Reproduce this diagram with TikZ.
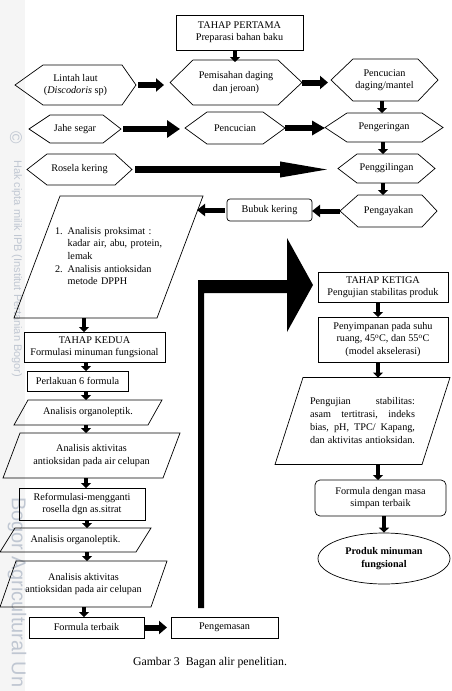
\documentclass[tikz,border=0pt]{standalone}
\usepackage{fontspec}
\setmainfont{Liberation Serif}
\newfontfamily\wmfont{Liberation Sans}
\usetikzlibrary{arrows.meta,shapes.geometric,calc}
\definecolor{wmc}{RGB}{192,199,210}
\newcommand\hexshape[3]{\draw[shp] (#1.west) -- ([xshift=#2pt]#1.north west) -- ([xshift=-#3pt]#1.north east) -- (#1.east) -- ([xshift=-#3pt]#1.south east) -- ([xshift=#2pt]#1.south west) -- cycle;}
\newcommand\parashape[2]{\draw[shp] ([xshift=#2pt]#1.north west) -- (#1.north east) -- ([xshift=-#2pt]#1.south east) -- (#1.south west) -- cycle;}
\newcommand\jline[1]{\hbox to 105pt{#1}}
\tikzset{
  base/.style={inner sep=0pt, outer sep=0pt, align=center, font=\fontsize{10.2}{12.3}\selectfont},
  bx/.style={base, draw, line width=0.7pt},
  rbx/.style={bx, rounded corners=3pt},
  sh/.style={base},
  sz/.style 2 args={minimum width=#1pt, minimum height=#2pt},
  shp/.style={draw, line width=0.7pt, line join=miter},
  arr/.style n args={3}{line width=#1pt, -{Triangle[length=#2pt,width=#3pt]}},
  varr/.style={arr={4.5}{5}{10}},
}
\begin{document}
\begin{tikzpicture}[x=1pt,y=-1pt]
\useasboundingbox (0,0) rectangle (451,691);
\fill[white] (0,0) rectangle (451,691);
\fill[black!4] (0,0) rectangle (25,691);
% watermark
\node[text=wmc, rotate=-90, font=\wmfont\fontsize{17}{17}\selectfont, inner sep=0pt] (wmc1) at (16,138) {©};
\node[text=wmc, rotate=-90, anchor=west, inner sep=0pt, font=\wmfont\fontsize{11}{11}\selectfont] (wm1) at (17,160) {Hak cipta milik IPB (Institut Pertanian Bogor)};
\node[text=wmc, rotate=-90, anchor=west, inner sep=0pt, font=\wmfont\fontsize{20}{20}\selectfont] (wm2) at (17,497) {Bogor Agricultural Un};

% ---- first stage
\node[bx, sz={127}{35}] (t1) at (239.5,32.5) {TAHAP PERTAMA\\Preparasi bahan baku};
\node[sh, sz={121}{40}] (lin) at (75.5,85) {Lintah laut\\(\textit{Discodoris} sp)};
\node[sh, sz={132}{45}] (pem) at (236,82.5) {Pemisahan daging\\dan jeroan)};
\node[sh, sz={107}{42}] (pcd) at (384.5,80) {Pencucian\\daging/mantel};
\node[sh, sz={92}{28}] (jahe) at (75,129) {Jahe segar};
\node[sh, sz={100}{32}] (pc) at (235,128) {Pencucian};
\node[sh, sz={118}{29}] (ker) at (384,127.5) {Pengeringan};
\node[sh, sz={105}{31}] (ros) at (79.5,169.5) {Rosela kering};
\node[sh, sz={97}{29}] (gil) at (386.5,168.5) {Penggilingan};
\node[sh, sz={97}{32}] (aya) at (388.5,211) {Pengayakan};
\node[rbx, sz={85}{22}] (bub) at (269.5,210) {Bubuk kering};
\hexshape{lin}{28}{14}
\hexshape{pem}{23}{24}
\hexshape{pcd}{22}{20}
\hexshape{jahe}{21}{18}
\hexshape{pc}{22}{22}
\hexshape{ker}{22}{21}
\hexshape{ros}{20}{17}
\hexshape{gil}{19}{17}
\hexshape{aya}{18}{15}

\node[sh, sz={189}{122}, text width=107pt, align=left, font=\fontsize{10.2}{12.7}\selectfont] (p1) at (108.5,257)
 {\begin{tabular}{@{}l@{\hspace{5pt}}l@{}}
  1. & Analisis proksimat :\\
     & kadar air, abu, protein,\\
     & lemak\\
  2. & Analisis antioksidan\\
     & metode DPPH
  \end{tabular}};
\parashape{p1}{46}

% ---- third stage
\node[bx, sz={130}{30}] (ket) at (383,287) {TAHAP KETIGA\\Pengujian stabilitas produk};
\node[bx, sz={130}{45}] (sim) at (383,339.5) {Penyimpanan pada suhu\\ruang, 45\textsuperscript{o}C, dan 55\textsuperscript{o}C\\(model akselerasi)};
\node[sh, sz={175}{87}, align=center, font=\fontsize{10.2}{13}\selectfont] (pr) at (362.5,421)
 {\jline{Pengujian\hfill stabilitas:}\\
  \jline{asam\hfill tertitrasi,\hfill indeks}\\
  \jline{bias,\hfill pH,\hfill TPC/\hfill Kapang,}\\
  \jline{dan\hfill aktivitas\hfill antioksidan.}};
\parashape{pr}{28}
\node[rbx, rounded corners=5pt, sz={131}{36}] (fm) at (380.5,498) {Formula dengan masa\\simpan terbaik};
\node[ellipse, draw, line width=0.7pt, inner sep=0pt, sz={132}{51}, align=center, font=\fontsize{10.2}{12.3}\selectfont\bfseries] (prod) at (384,558.5) {Produk minuman\\fungsional};

% ---- second stage
\node[bx, sz={141}{30}] (ked) at (94.5,347) {TAHAP KEDUA\\Formulasi minuman fungsional};
\node[bx, sz={101}{20}] (per) at (77.5,381) {Perlakuan 6 formula};
\node[sh, sz={148}{25}] (o1) at (88,412.5) {Analisis organoleptik.};
\parashape{o1}{14}
\node[sh, sz={177}{45}] (a1) at (91.5,455.5) {Analisis aktivitas\\antioksidan pada air celupan};
\parashape{a1}{17}
\node[bx, sz={126}{32}] (ref) at (82,504) {Reformulasi-mengganti\\rosella dgn as.sitrat};
\node[sh, sz={151}{24}] (o2) at (75.5,540) {Analisis organoleptik.};
\parashape{o2}{15}
\node[sh, sz={167}{46}] (a2) at (83.5,584) {Analisis aktivitas\\antioksidan pada air celupan};
\parashape{a2}{16}
\node[bx, sz={115}{21}] (ft) at (86.5,627.5) {Formula terbaik};
\node[bx, sz={107}{21}] (pg) at (224.5,627.5) {Pengemasan};

\node[base, font=\fontsize{11.8}{14}\selectfont] (cap) at (210,663) {Gambar 3\ \ Bagan alir penelitian.};

% ---- vertical arrows
\draw[varr] ([xshift=-4.5pt]t1.south) -- ([xshift=-4.5pt,yshift=-2pt]t1.south |- pem.north);
\draw[varr] ([xshift=-2.5pt]pcd.south) -- ([xshift=-2.5pt]pcd.south |- ker.north);
\draw[varr] ([xshift=-1pt]ker.south) -- ([xshift=-1pt]ker.south |- gil.north);
\draw[varr] ([xshift=-3.5pt]gil.south) -- ([xshift=-3.5pt]gil.south |- aya.north);
\draw[varr] ([xshift=-24.5pt]p1.south) -- ([xshift=-24.5pt]p1.south |- ked.north);
\draw[varr] ([xshift=-8.5pt]ked.south) -- ([xshift=-8.5pt]ked.south |- per.north);
\draw[varr] ([xshift=8.5pt]per.south) -- ([xshift=8.5pt]per.south |- o1.north);
\draw[varr] ([xshift=-2pt]o1.south) -- ([xshift=-2pt]o1.south |- a1.north);
\draw[varr] ([xshift=-5.5pt]a1.south) -- ([xshift=-5.5pt]a1.south |- ref.north);
\draw[varr] ([xshift=5pt]ref.south) -- ([xshift=5pt]ref.south |- o2.north);
\draw[varr] ([xshift=11.5pt]o2.south) -- ([xshift=11.5pt]o2.south |- a2.north);
\draw[varr] ([xshift=0.5pt]a2.south) -- ([xshift=0.5pt]a2.south |- ft.north);
\draw[varr] ([xshift=-5pt]ket.south) -- ([xshift=-5pt]ket.south |- sim.north);
\draw[varr] ([xshift=-5pt]sim.south) -- ([xshift=-5pt]sim.south |- pr.north);
\draw[varr] ([xshift=15.5pt]pr.south) -- ([xshift=15.5pt]pr.south |- fm.north);
\draw[varr] ([xshift=3.5pt]fm.south) -- ([xshift=3.5pt]fm.south |- prod.north);

% ---- horizontal arrows
\draw[arr={6}{8}{13}] ([xshift=2pt]lin.east) -- ([xshift=-6pt]lin.east -| pem.west);
\draw[arr={6}{8}{13}] (pem.east) -- ([xshift=-3pt]pem.east -| pcd.west);
\draw[arr={6}{13}{17}] ([xshift=2pt]jahe.east) -- ([xshift=-5pt]jahe.east -| pc.west);
\draw[arr={6.5}{13}{14}] (pc.east) -- (pc.east -| ker.west);
\draw[arr={6.5}{52}{14}] ([xshift=3pt]ros.east) -- ([xshift=-6pt]ros.east -| gil.west);
\draw[arr={5}{8}{12}] (aya.west) -- (aya.west -| bub.east);
\draw[arr={5}{8}{12}] ([xshift=-2pt]bub.west) -- ([xshift=-6pt]bub.west -| p1.north east);
\draw[arr={6}{8}{13}] ([xshift=1pt]ft.east) -- ([xshift=-4pt]ft.east -| pg.west);

% ---- big bent arrow from Pengemasan to TAHAP KETIGA
\coordinate (bs) at ([xshift=-23.5pt,yshift=9pt]pg.north);
\coordinate (bt) at ([xshift=-5pt,yshift=2pt]ket.west);
\fill let \p1=(bs), \p2=(bt) in
  (\x1-3pt,\y1) -- (\x1-3pt,\y2+5pt) -- (\x2-26pt,\y2+5pt) -- (\x2-26pt,\y2+47pt)
  -- (\x2,\y2) -- (\x2-26pt,\y2-47pt) -- (\x2-26pt,\y2-8pt) -- (\x1+3pt,\y2-8pt)
  -- (\x1+3pt,\y1) -- cycle;
\end{tikzpicture}
\end{document}
